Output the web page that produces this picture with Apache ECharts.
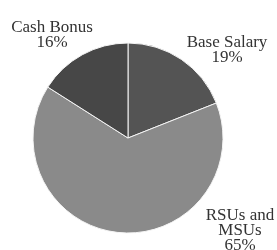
<!DOCTYPE html>
<html><head><meta charset="utf-8">
<script src="https://cdn.jsdelivr.net/npm/echarts@6/dist/echarts.min.js"></script>
<style>html,body{margin:0;padding:0;background:#fff}#c{width:277px;height:250px}</style>
</head><body><div id="c"></div>
<script>
var categories = ['Base Salary', 'RSUs and\nMSUs', 'Cash Bonus'];
var values = [19, 65, 16];
var colors = ['#545454', '#8a8a8a', '#474747'];
var labelPos = [[227, 50], [240, 231], [52, 35]];

var chart = echarts.init(document.getElementById('c'), null, {renderer: 'canvas'});
chart.setOption({
  animation: false,
  series: [{
    type: 'pie',
    center: [128, 138],
    radius: [0, 95],
    startAngle: 90,
    clockwise: true,
    data: categories.map(function (n, i) { return {name: n, value: values[i], itemStyle: {color: colors[i]}}; }),
    itemStyle: {borderColor: '#f4f4f4', borderWidth: 1},
    label: {
      show: true,
      position: 'outside',
      formatter: function (p) {
        return p.name.split('\n').map(function (s) { return '{t|' + s + '}'; }).join('\n') + '\n{t|' + Math.round(p.percent) + '%}';
      },
      rich: {
        t: {fontFamily: 'Liberation Serif', fontSize: 17, lineHeight: 15, color: '#333', align: 'center'}
      },
      fontFamily: 'Liberation Serif',
      fontSize: 17,
      lineHeight: 15,
      color: '#333',
      align: 'center',
      overflow: 'none',
      width: 120
    },
    labelLine: {show: false},
    labelLayout: function (p) {
      var pos = labelPos[p.dataIndex];
      return {x: pos[0], y: pos[1], align: 'center', verticalAlign: 'middle', hideOverlap: false, moveOverlap: false};
    },
    emphasis: {disabled: true}
  }]
});
</script></body></html>
